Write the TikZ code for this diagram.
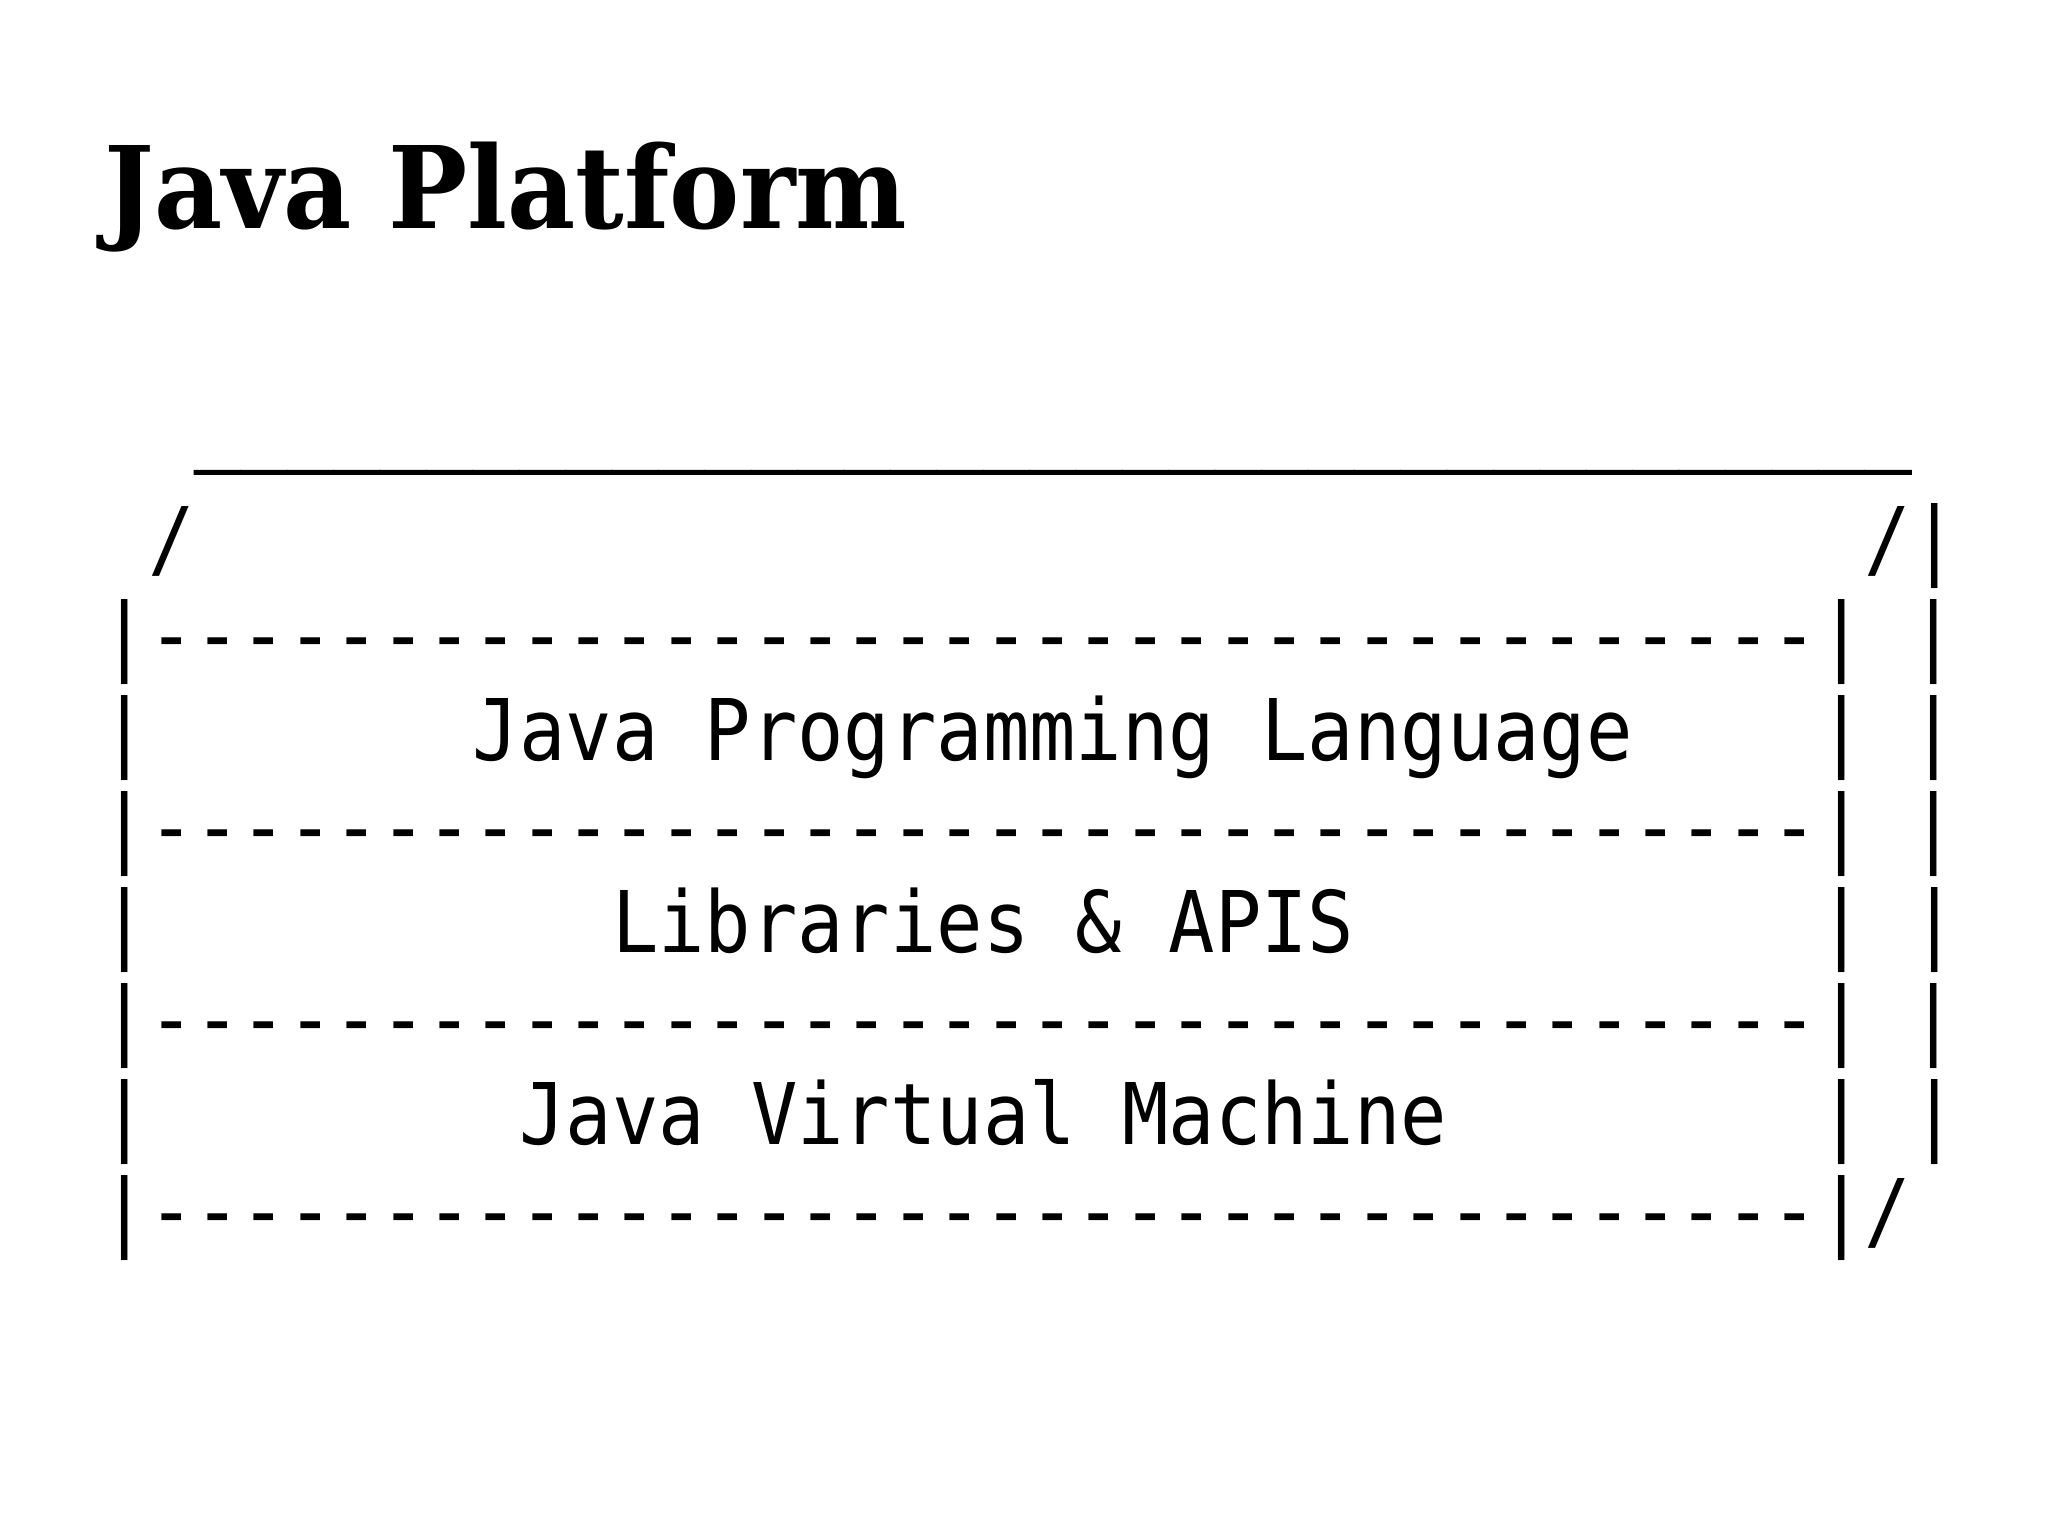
\documentclass[tikz,border=0pt]{standalone}
\usepackage{fontspec}
\setmonofont[FakeStretch=0.906]{DejaVu Sans Mono}
\newfontfamily\lidfont[FakeStretch=0.906, FakeBold=2]{DejaVu Sans Mono}
\newfontfamily\titlefont[FakeStretch=0.925]{DejaVu Serif}
\ExplSyntaxOn
\NewDocumentCommand\charrun{mm}{\prg_replicate:nn{#1}{#2}}
\ExplSyntaxOff
\begin{document}
\begin{tikzpicture}[x=0.25mm, y=-0.25mm,
  row/.style={anchor=base west, inner sep=0pt, font=\ttfamily\fontsize{60.5}{72}\selectfont}]
\useasboundingbox (0,0) rectangle (2048,1535);
\node [anchor=base west, inner sep=0pt, font=\titlefont\bfseries\fontsize{81}{96}\selectfont] (title) at (104,229) {Java Platform};
\node [row] (lid) at (101.4,454) {\lidfont~~\charrun{37}{\_}};
\node [row] (rim) at (101.4,568) {~/\charrun{36}{~}/|};
\node [row] (sepa) at (101.4,664) {|\charrun{36}{-}|~|};
\node [row] (lang) at (101.4,760) {|\charrun{7}{~}Java~Programming~Language\charrun{4}{~}|~|};
\node [row] (sepb) at (101.4,856) {|\charrun{36}{-}|~|};
\node [row] (libs) at (101.4,952) {|\charrun{10}{~}Libraries~\&~APIS\charrun{10}{~}|~|};
\node [row] (sepc) at (101.4,1048) {|\charrun{36}{-}|~|};
\node [row] (jvm) at (101.4,1144) {|\charrun{8}{~}Java~Virtual~Machine\charrun{8}{~}|~|};
\node [row] (base) at (101.4,1240) {|\charrun{36}{-}|/};
\end{tikzpicture}
\end{document}
